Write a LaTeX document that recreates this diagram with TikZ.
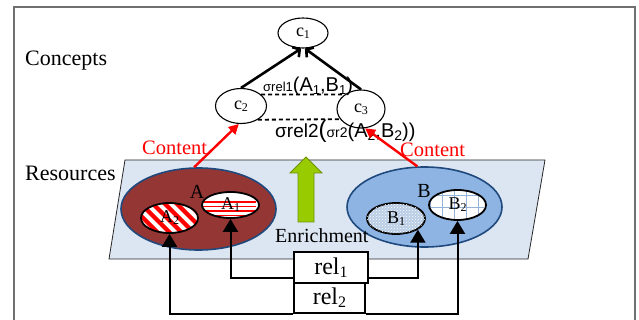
\documentclass[tikz,border=0pt]{standalone}
\usepackage{fontspec}
\setmainfont{Liberation Serif}
\newfontfamily\arialf{Liberation Sans}
\usetikzlibrary{shapes.geometric,arrows.meta,patterns}
\definecolor{frameg}{HTML}{707070}
\definecolor{plane}{HTML}{DCE6F2}
\definecolor{darkred}{HTML}{943634}
\definecolor{edgeblue}{HTML}{1F497D}
\definecolor{bblue}{HTML}{8EB4E3}
\definecolor{gridblue}{HTML}{95B3D7}
\definecolor{dotblue}{HTML}{B9CDE5}
\definecolor{greenfill}{HTML}{99CC00}
\definecolor{greenedge}{HTML}{6E8F00}
\newcommand\mysubs[2][12]{\raisebox{-0.25ex}{\fontsize{#1}{#1}\selectfont #2}}
\begin{document}
\begin{tikzpicture}[x=1pt,y=-1pt,
  cnode/.style={ellipse, draw, line width=1.1pt, fill=white, inner sep=0pt, font=\fontsize{18}{18}\selectfont},
  subell/.style={ellipse, draw, line width=1.8pt, inner sep=0pt, font=\fontsize{18}{18}\selectfont},
  bigell/.style={ellipse, draw=edgeblue, line width=1.6pt, inner sep=0pt},
  relbox/.style={draw, line width=1.8pt, fill=white, inner sep=0pt, font=\fontsize{24}{24}\selectfont},
  conn/.style={line width=2pt, -{Triangle[length=13pt,width=15pt]}},
  redarrow/.style={red, line width=2.4pt, -{Triangle[length=10pt,width=10pt]}},
  upper/.style={line width=2.6pt, -{Straight Barb[length=5pt,width=12pt]}},
  dashline/.style={line width=1.8pt, dash pattern=on 4pt off 3pt},
  lbl/.style={anchor=base west, inner sep=0pt},
]
\useasboundingbox (0,0) rectangle (639,320);
% frame
\draw[frameg, line width=2.2pt] (14,330) -- (14,7) -- (635,7) -- (635,330);

% side labels
\node[lbl, font=\fontsize{22}{22}\selectfont] (concepts) at (25,66) {Concepts};
\node[lbl, font=\fontsize{22}{22}\selectfont] (resources) at (25,181) {Resources};

% concept nodes
\node[cnode, minimum width=50pt, minimum height=30pt] (c1) at (303,33) {c\mysubs{1}};
\node[cnode, minimum width=51pt, minimum height=35pt] (c2) at (241,106) {c\mysubs{2}};
\node[cnode, minimum width=48pt, minimum height=38pt] (c3) at (361,109) {c\mysubs{3}};

\draw[upper] (c2.north) -- (c1.-97);
\draw[upper] (c3.north) -- (c1.-83);
\draw[dashline] (c2.30) -- (c3.139);
\draw[dashline] (c2.-39) -- (c3.-154);

\node[lbl, font=\arialf] (sig1) at (263,92)
  {{\fontsize{13}{13}\selectfont σrel1}{\fontsize{20}{20}\selectfont(A\mysubs[13]{1},B\mysubs[13]{1})}};
\node[lbl, font=\arialf] (sig2) at (275,138)
  {{\fontsize{19}{19}\selectfont σrel2}{\fontsize{24}{24}\selectfont(}{\fontsize{14}{14}\selectfont σr2}{\fontsize{20}{20}\selectfont(A\mysubs[14]{2},B\mysubs[14]{2}))}};

% resource plane
\filldraw[fill=plane, draw=black!85, line width=0.8pt] (125,160) -- (545,160) -- (528,259) -- (109,259) -- cycle;

% resource sets
\node[bigell, fill=darkred, minimum width=155pt, minimum height=82pt] (A) at (198.5,209) {};
\node[bigell, fill=bblue, minimum width=155pt, minimum height=80pt] (B) at (424.5,207) {};
\node[font=\fontsize{20}{20}\selectfont, inner sep=0pt] (Alab) at (197,192) {A};
\node[font=\fontsize{20}{20}\selectfont, inner sep=0pt] (Blab) at (424,191) {B};

\node[subell, fill=white, minimum width=57pt, minimum height=26pt,
  path picture={\begin{scope}[shift={(path picture bounding box.center)}]
    \foreach \yy in {-8,-3.5,1,5.5,10} \draw[red, line width=1.5pt] (-35,\yy) -- (35,\yy);
  \end{scope}}] (A1) at (230.5,205) {A\mysubs{1}};
\node[subell, fill=white, minimum width=57pt, minimum height=30pt,
  path picture={\begin{scope}[shift={(path picture bounding box.center)}]
    \foreach \k in {-84,-72,...,84} \draw[red, line width=4.3pt] (\k-35,-35) -- (\k+35,35);
  \end{scope}}] (A2) at (169.5,218) {A\mysubs{2}};
\node[subell, fill=dotblue, minimum width=58pt, minimum height=31pt,
  postaction={pattern=crosshatch dots, pattern color=white}] (B1) at (396,218.5) {B\mysubs{1}};
\node[subell, fill=white, minimum width=57pt, minimum height=30pt,
  path picture={\begin{scope}[shift={(path picture bounding box.center)}]
    \foreach \k in {-36,-24,...,36} \draw[gridblue, line width=1.2pt] (\k+6,-20) -- (\k+6,20);
    \foreach \k in {-12,0,12} \draw[gridblue, line width=1.2pt] (-35,\k-2) -- (35,\k-2);
  \end{scope}}] (B2) at (457.5,205) {B\mysubs{2}};

% enrichment arrow
\filldraw[fill=greenfill, draw=greenedge, line width=0.8pt]
  (306,157) -- (322,173) -- (314,173) -- (314,222) -- (298,222) -- (298,173) -- (290,173) -- cycle;
\node[lbl, font=\fontsize{20}{20}\selectfont] (enrich) at (275,242) {Enrichment};

% content arrows
\draw[redarrow] (A.96) -- (c2.-97);
\draw[redarrow] (B.100) -- (c3.-78);
\node[lbl, red, font=\fontsize{20.5}{20.5}\selectfont] (content1) at (142,155) {Content};
\node[lbl, red, font=\fontsize{20.5}{20.5}\selectfont] (content2) at (400,157) {Content};

% relation boxes
\node[relbox, minimum width=74pt, minimum height=31pt] (rel1) at (331,267.5) {rel\mysubs[16]{1}};
\node[relbox, minimum width=71pt, minimum height=30pt] (rel2) at (329.5,298) {rel\mysubs[16]{2}};

\draw[conn] ([yshift=-10.5pt]rel1.west) -| (A1.south);
\draw[conn] ([yshift=-10.5pt]rel1.east) -| (B1.-27);
\draw[conn] (rel2.south west) -| (A2.south);
\draw[conn] (rel2.south east) -| (B2.south);
\end{tikzpicture}
\end{document}
